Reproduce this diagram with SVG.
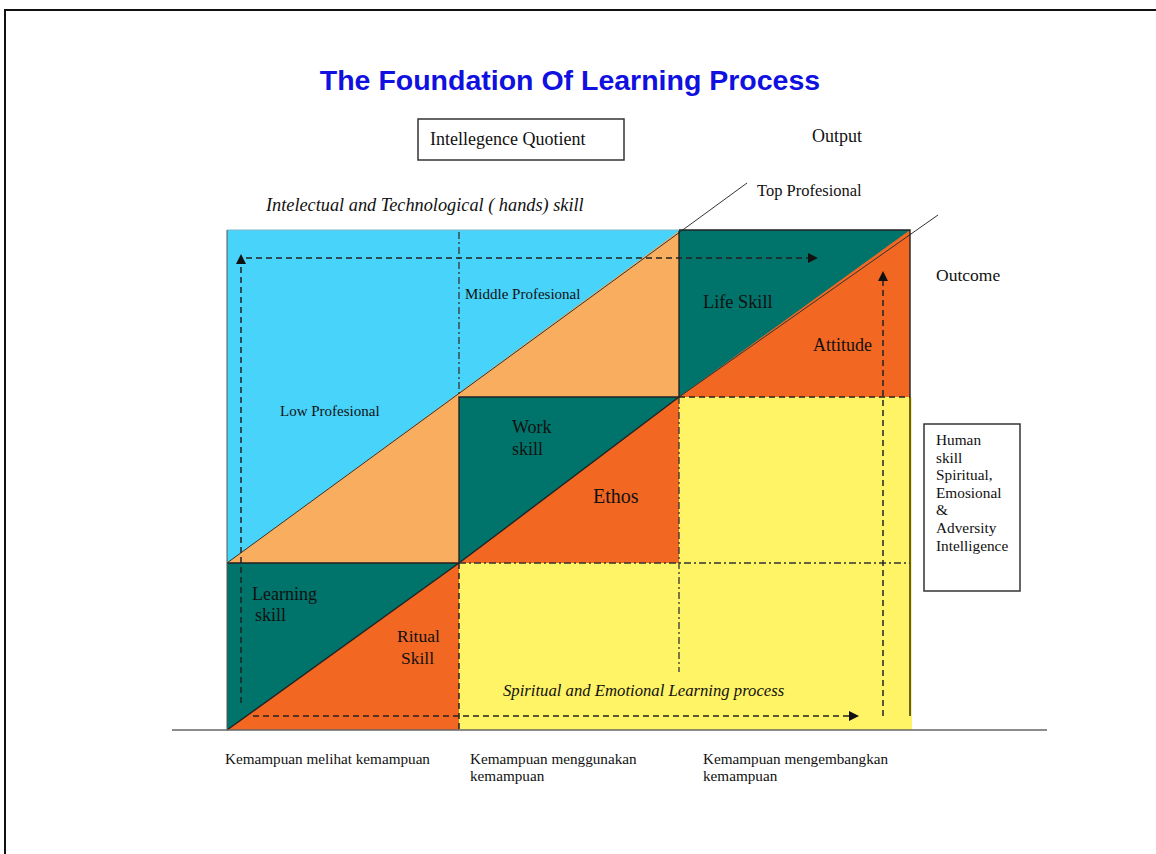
<svg xmlns="http://www.w3.org/2000/svg" width="1156" height="854" viewBox="0 0 1156 854">
  <style>
    .serif { font-family: "Liberation Serif", "Times New Roman", serif; fill: #111; }
    .title { font-family: "Liberation Sans", Arial, sans-serif; font-weight: bold; font-size: 28.5px; fill: #1010E0; }
    .edge { stroke: #222; stroke-width: 1.4; fill: none; }
    .dash { stroke: #222; stroke-width: 1.5; stroke-dasharray: 6 4; fill: none; }
    .dashdot { stroke: #333; stroke-width: 1.3; stroke-dasharray: 7 3 2 3; fill: none; }
    .thin { stroke: #333; stroke-width: 1; fill: none; }
    .box { fill: #fff; stroke: #333; stroke-width: 1.5; }
  </style>
  <defs>
    <marker id="arrow" viewBox="0 0 10 10" refX="8" refY="5" markerWidth="10" markerHeight="10" markerUnits="userSpaceOnUse" orient="auto">
      <path d="M0,0 L10,5 L0,10 Z" fill="#111"/>
    </marker>
  </defs>

  <rect width="1156" height="854" fill="#fff"/>
  <!-- page frame (top and left edges) -->
  <path d="M5,854 V10 H1156" stroke="#111" stroke-width="2" fill="none"/>

  <text class="title" x="570" y="90" text-anchor="middle">The Foundation Of Learning Process</text>

  <g id="iq-box">
    <rect class="box" x="418" y="119" width="206" height="41"/>
    <text class="serif" x="430" y="145" font-size="18">Intellegence Quotient</text>
  </g>

  <g id="labels-top">
    <text class="serif" x="812" y="142" font-size="18">Output</text>
    <text class="serif" x="757" y="196" font-size="16.5">Top Profesional</text>
    <text class="serif" x="936" y="281" font-size="17.5">Outcome</text>
    <text class="serif" x="266" y="211" font-size="18.3" font-style="italic">Intelectual and Technological ( hands) skill</text>
  </g>

  <!-- colour fields -->
  <g id="fields">
    <rect x="227" y="230" width="452" height="333" fill="#48D3FA"/>
    <polygon points="227,563 679,231 679,397 459,397 459,563" fill="#F9AD5E"/>
    <rect x="459" y="563" width="453" height="167" fill="#FFF366"/>
    <rect x="679" y="397" width="233" height="166" fill="#FFF366"/>

    <g id="life-skill">
      <rect x="679" y="230" width="231" height="167" fill="#00736A"/>
      <polygon points="679,397 910,230 910,397" fill="#F26722"/>
    </g>
    <g id="work-skill">
      <rect x="459" y="397" width="220" height="166" fill="#00736A"/>
      <polygon points="459,563 679,397 679,563" fill="#F26722"/>
    </g>
    <g id="learning-skill">
      <rect x="227" y="563" width="232" height="167" fill="#00736A"/>
      <polygon points="227,730 459,563 459,730" fill="#F26722"/>
    </g>
  </g>

  <!-- outlines and diagonals -->
  <g id="connectors">
    <line class="thin" x1="227" y1="563" x2="747" y2="183"/>
    <line class="thin" x1="679" y1="397" x2="938" y2="215"/>
    <line class="edge" x1="459" y1="563" x2="679" y2="397"/>
    <line class="edge" x1="227" y1="730" x2="459" y2="563"/>
    <path class="edge" d="M679,231 V397 H459 V563 H227"/>
    <path class="edge" d="M679,230 H910 V397"/>
    <line class="edge" x1="910" y1="397" x2="910" y2="716"/>
    <line x1="227" y1="230" x2="679" y2="230" stroke="#7fb8c8" stroke-width="1"/>
    <line x1="227" y1="230" x2="227" y2="730" stroke="#555" stroke-width="1"/>

    <!-- grid guides -->
    <line class="dashdot" x1="459" y1="232" x2="459" y2="397"/>
    <line class="dash" x1="459" y1="563" x2="459" y2="730"/>
    <line class="dashdot" x1="679" y1="397" x2="679" y2="672"/>
    <line class="dash" x1="679" y1="397" x2="910" y2="397"/>
    <line class="dashdot" x1="459" y1="563" x2="910" y2="563"/>

    <!-- flow arrows -->
    <line class="dash" x1="241" y1="703" x2="241" y2="256" marker-end="url(#arrow)"/>
    <line class="dash" x1="246" y1="258" x2="816" y2="258" marker-end="url(#arrow)"/>
    <line class="dash" x1="253" y1="716" x2="857" y2="716" marker-end="url(#arrow)"/>
    <line class="dash" x1="883" y1="716" x2="883" y2="273" marker-end="url(#arrow)"/>

    <!-- baseline -->
    <line x1="172" y1="730" x2="1047" y2="730" stroke="#666" stroke-width="1.5"/>
  </g>

  <g id="region-labels">
    <text class="serif" x="465" y="299" font-size="15">Middle Profesional</text>
    <text class="serif" x="280" y="416" font-size="15">Low Profesional</text>
    <text class="serif" x="703" y="308" font-size="18.3">Life Skill</text>
    <text class="serif" x="813" y="351" font-size="18">Attitude</text>
    <text class="serif" x="512" y="433" font-size="18">Work</text>
    <text class="serif" x="512" y="455" font-size="18">skill</text>
    <text class="serif" x="593" y="503" font-size="20">Ethos</text>
    <text class="serif" x="252" y="600" font-size="18">Learning</text>
    <text class="serif" x="255" y="621" font-size="18">skill</text>
    <text class="serif" x="397" y="642" font-size="17.5">Ritual</text>
    <text class="serif" x="401" y="664" font-size="17.5">Skill</text>
    <text class="serif" x="503" y="696" font-size="16.7" font-style="italic">Spiritual and Emotional Learning process</text>
  </g>

  <g id="human-skill-box">
    <rect class="box" x="924" y="424" width="96" height="167"/>
    <text class="serif" font-size="15.3">
      <tspan x="936" y="445">Human</tspan>
      <tspan x="936" y="463">skill</tspan>
      <tspan x="936" y="480">Spiritual,</tspan>
      <tspan x="936" y="498">Emosional</tspan>
      <tspan x="936" y="515">&amp;</tspan>
      <tspan x="936" y="533">Adversity</tspan>
      <tspan x="936" y="551">Intelligence</tspan>
    </text>
  </g>

  <g id="axis-labels">
    <text class="serif" x="225" y="764" font-size="15.2">Kemampuan melihat kemampuan</text>
    <text class="serif" font-size="15.2">
      <tspan x="470" y="764">Kemampuan menggunakan</tspan>
      <tspan x="470" y="781">kemampuan</tspan>
    </text>
    <text class="serif" font-size="15.2">
      <tspan x="703" y="764">Kemampuan mengembangkan</tspan>
      <tspan x="703" y="781">kemampuan</tspan>
    </text>
  </g>
</svg>
